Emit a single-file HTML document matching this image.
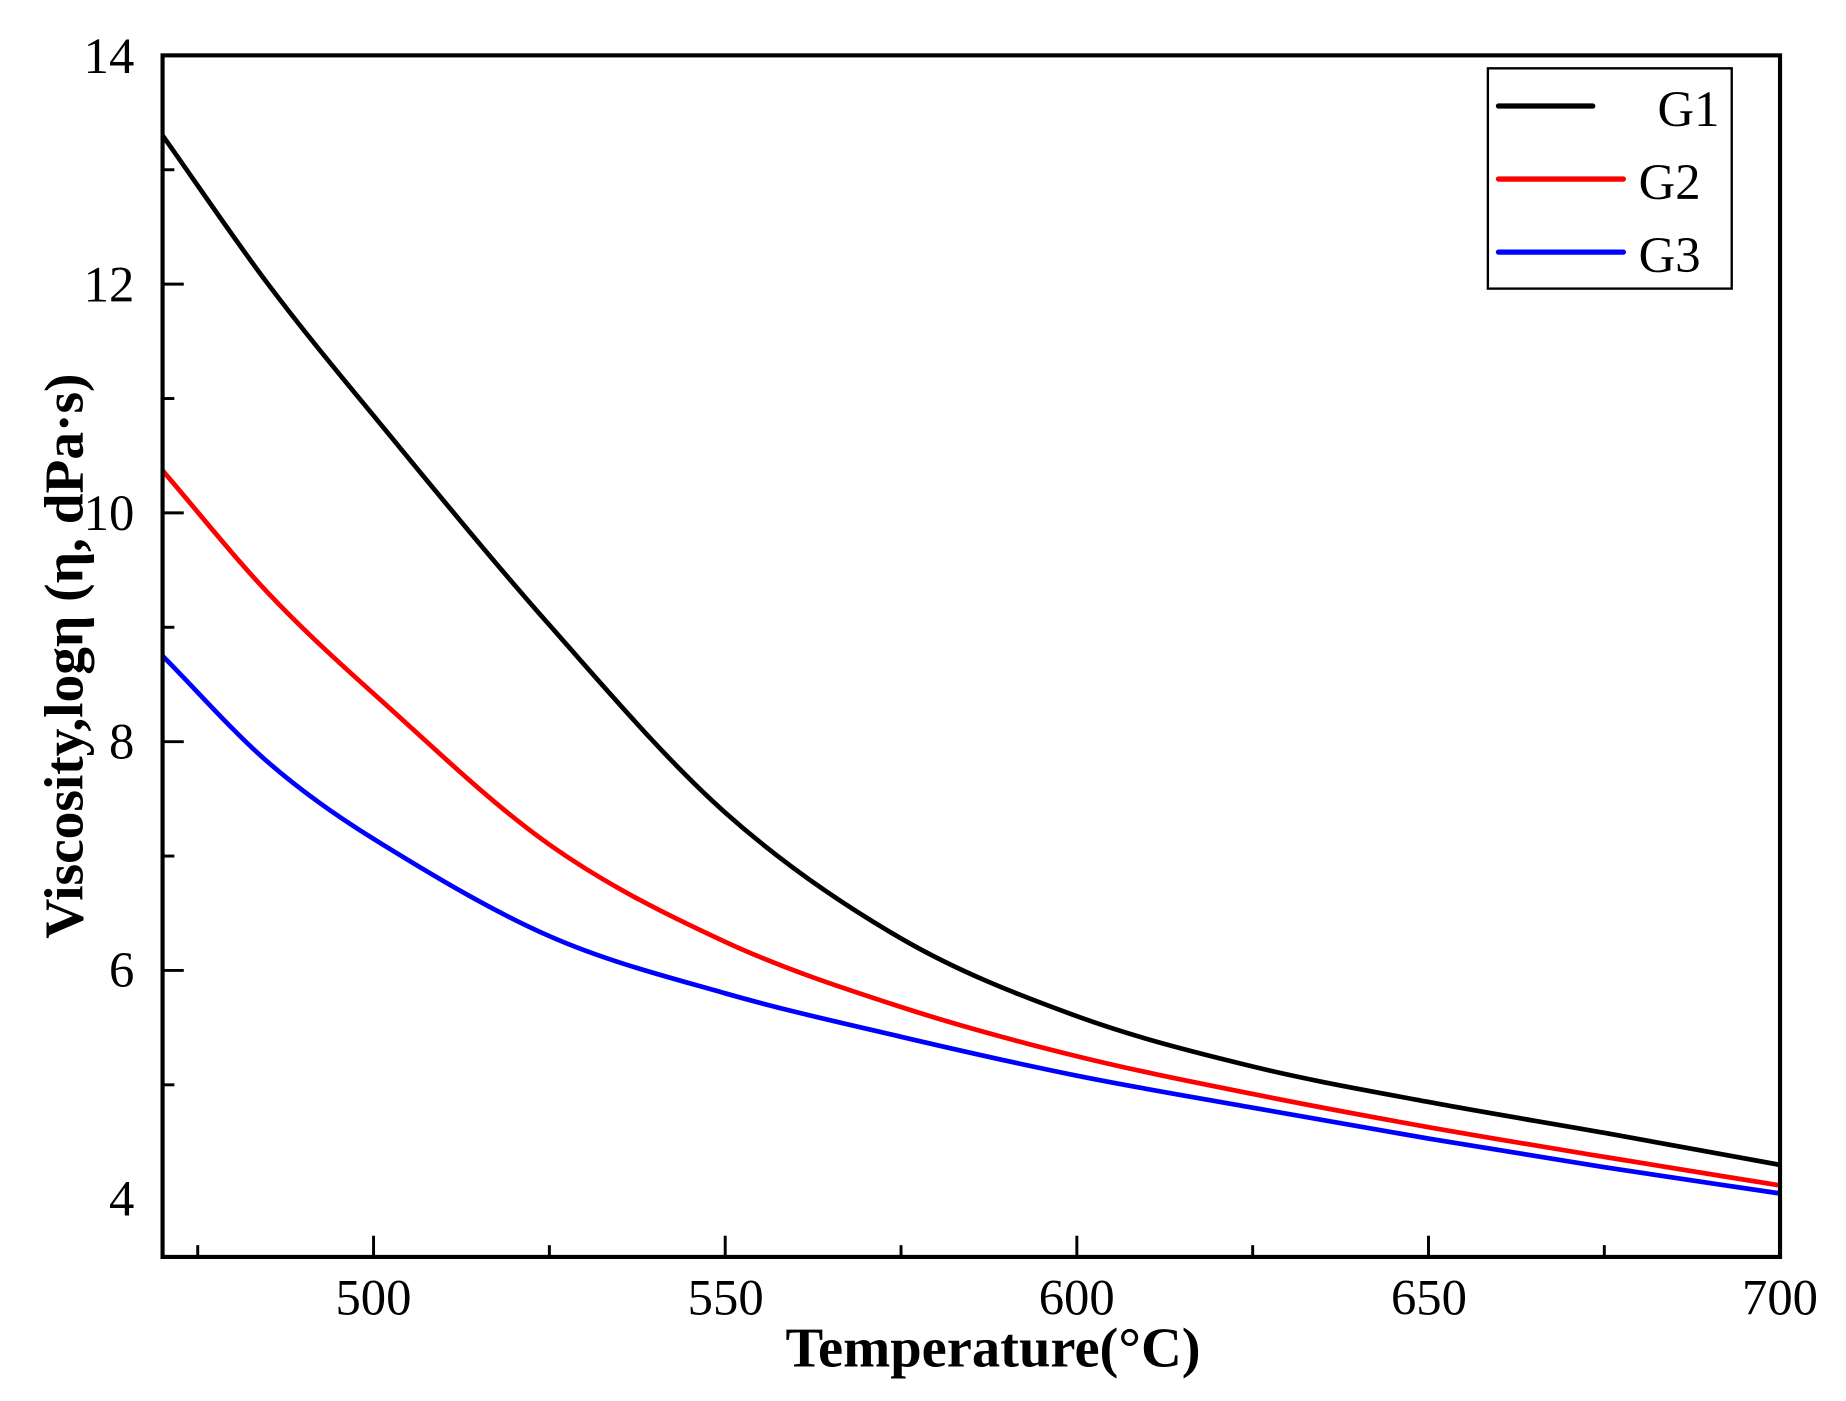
<!DOCTYPE html>
<html><head><style>html,body{margin:0;padding:0;background:#fff}svg{display:block}</style></head>
<body>
<svg id="s" width="1846" height="1401" viewBox="0 0 1567 1189.3" preserveAspectRatio="none" xmlns="http://www.w3.org/2000/svg" font-family="Liberation Serif, serif">
<rect width="1567" height="1190" fill="#fff"/>
<g id="curves" fill="none" stroke-width="4" stroke-linejoin="round"></g>
<rect x="138" y="47" width="1373" height="1020" fill="none" stroke="#000" stroke-width="3.5"/>
<g stroke="#000" stroke-width="2.5" id="ticks"></g>
<g font-size="43" fill="#000" text-anchor="middle">
<text x="317" y="1116">500</text><text x="616" y="1116">550</text><text x="914" y="1116">600</text><text x="1213" y="1116">650</text><text x="1511" y="1116">700</text>
</g>
<g font-size="43" fill="#000" text-anchor="end">
<text x="114" y="1032">4</text><text x="114" y="838">6</text><text x="114" y="644">8</text><text x="114" y="450">10</text><text x="114" y="256">12</text><text x="114" y="62">14</text>
</g>
<text x="843" y="1160" font-size="48" font-weight="bold" text-anchor="middle">Temperature(°C)</text>
<text transform="translate(70,557) rotate(-90)" font-size="47" font-weight="bold" text-anchor="middle">Viscosity,logη (η, dPa·s)</text>
<rect x="1263" y="58" width="207" height="187" fill="#fff" stroke="#000" stroke-width="2"/>
<g stroke-width="4.5" stroke-linecap="round">
<line x1="1272" y1="90" x2="1352" y2="90" stroke="#000"/>
<line x1="1272" y1="152" x2="1378" y2="152" stroke="#f00"/>
<line x1="1272" y1="214" x2="1378" y2="214" stroke="#00f"/>
</g>
<g font-size="43" fill="#000">
<text x="1407" y="107">G1</text><text x="1391" y="169">G2</text><text x="1391" y="231">G3</text>
</g>
</svg>
<script>
var X=[470,485,500,525,550,575,600,625,650,675,700];
var D=[["#000",[13.3,12.0,10.85,9.02,7.38,6.28,5.6,5.16,4.85,4.58,4.3]],
["#f00",[10.37,9.3,8.42,7.1,6.25,5.68,5.25,4.92,4.63,4.37,4.12]],
["#00f",[8.75,7.82,7.15,6.3,5.8,5.42,5.08,4.8,4.53,4.28,4.05]]];
function px(t){return 138+(t-470)*5.97}function py(v){return 1018-(v-4)*97.1}
function path(xs,vs){var n=xs.length,m=[];for(var i=0;i<n;i++){var a=Math.max(i-1,0),b=Math.min(i+1,n-1);m.push((vs[b]-vs[a])/(xs[b]-xs[a]));}
var s="M"+px(xs[0])+","+py(vs[0]);for(var i=0;i<n-1;i++){var h=(xs[i+1]-xs[i])/3;
s+=" C"+px(xs[i]+h)+","+py(vs[i]+m[i]*h)+" "+px(xs[i+1]-h)+","+py(vs[i+1]-m[i+1]*h)+" "+px(xs[i+1])+","+py(vs[i+1]);}return s}
var g=document.getElementById("curves"),ns="http://www.w3.org/2000/svg";
D.forEach(function(c){var e=document.createElementNS(ns,"path");e.setAttribute("d",path(X,c[1]));e.setAttribute("stroke",c[0]);g.appendChild(e)});
var t=document.getElementById("ticks");
function ln(a,b,c,e){var l=document.createElementNS(ns,"line");l.setAttribute("x1",a);l.setAttribute("y1",b);l.setAttribute("x2",c);l.setAttribute("y2",e);t.appendChild(l)}
for(var T=475;T<700;T+=25){var x=px(T);ln(x,1067,x,T%50==0?1049:1057)}
for(var v=5;v<14;v++){var y=py(v);ln(138,y,v%2==0?156:148,y)}
</script>
</body></html>
